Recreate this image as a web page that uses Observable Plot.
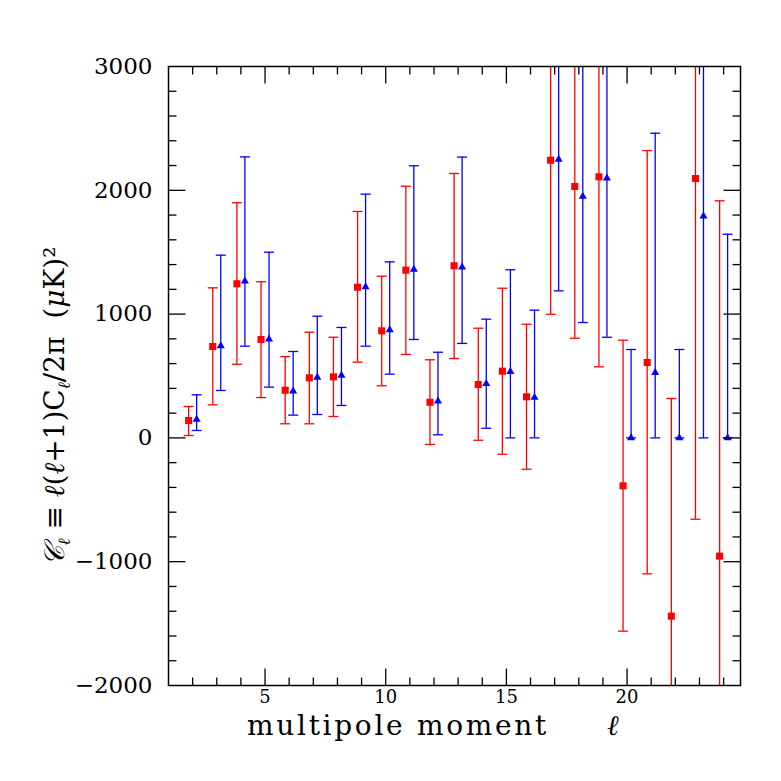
<!DOCTYPE html>
<html><head><meta charset="utf-8">
<script src="https://cdn.jsdelivr.net/npm/d3@7"></script>
<script src="https://cdn.jsdelivr.net/npm/@observablehq/plot@0.6"></script>
<style>body{margin:0;background:#fff}</style>
</head><body><div id="chart"></div>
<script>
// multipole moments
const ell = [2,3,4,5,6,7,8,9,10,11,12,13,14,15,16,17,18,19,20,21,22,23,24];
// red squares (value, lower and upper ends of error bar)
const redValue = [140,738,1245,795,385,485,493,1217,865,1355,288,1390,431,539,332,2243,2031,2109,-387,609,-1440,2095,-955];
const redHigh  = [254,1212,1899,1261,657,854,813,1829,1306,2033,631,2136,886,1209,918,3490,3260,3640,789,2321,318,4850,1915];
const redLow   = [19,267,595,326,114,114,173,612,421,674,-53,641,-19,-132,-253,999,805,574,-1561,-1098,-3200,-657,-3830];
// blue triangles
const blueValue = [149,744,1266,797,377,488,504,1220,873,1360,297,1379,439,536,326,2250,1950,2098,0,526,0,1791,0];
const blueHigh  = [348,1476,2270,1500,698,983,892,1969,1422,2198,692,2268,959,1358,1032,3310,3200,3380,714,2461,714,3600,1645];
const blueLow   = [60,383,741,410,184,189,262,741,515,795,25,763,78,0,0,1188,932,813,0,0,0,0,0];
// ticks
const xMajorTicks = [5,10,15,20];
const xMinorTicks = [2,3,4,6,7,8,9,11,12,13,14,16,17,18,19,21,22,23,24];
const yTickLabels = [-2000,-1000,0,1000,2000,3000];
const yMajorTicks = [-1000,0,1000,2000];
const yMinorTicks = [-1800,-1600,-1400,-1200,-800,-600,-400,-200,200,400,600,800,1200,1400,1600,1800,2200,2400,2600,2800];

const red = "#ff0000", blue = "#0000ff";
const redRows = ell.map((l,i)=>({l, v: redValue[i], lo: redLow[i], hi: redHigh[i]}));
const blueRows = ell.map((l,i)=>({l, v: blueValue[i], lo: blueLow[i], hi: blueHigh[i]}));

const hLine = (a,b) => ({draw(ctx){ ctx.moveTo(a,0); ctx.lineTo(b,0); }});
const vLine = (a,b) => ({draw(ctx){ ctx.moveTo(0,a); ctx.lineTo(0,b); }});
const cap = hLine(-5,5);
const xMin = 1, xMax = 24.7, yMin = -2000, yMax = 3000;
const tickStyle = {stroke: "black", fill: "none", strokeWidth: 1.3, r: 1};

function series(rows, color, dx, symbol, r) {
  return [
    Plot.ruleX(rows, {x: "l", y1: "lo", y2: "hi", dx, stroke: color, strokeWidth: 1.3, clip: true}),
    Plot.dot(rows, {x: "l", y: "hi", dx, symbol: cap, r: 1, stroke: color, fill: "none", strokeWidth: 1.3, clip: true}),
    Plot.dot(rows, {x: "l", y: "lo", dx, symbol: cap, r: 1, stroke: color, fill: "none", strokeWidth: 1.3, clip: true}),
    Plot.dot(rows, {x: "l", y: "v", dx, symbol, r, fill: color, stroke: "none", clip: true})
  ];
}

const chart = Plot.plot({
  width: 781, height: 781,
  marginLeft: 168, marginRight: 41, marginTop: 66, marginBottom: 96,
  x: {domain: [xMin, xMax]},
  y: {domain: [yMin, yMax]},
  style: {background: "#fff", fontFamily: "DejaVu Serif"},
  marks: [
    ...series(redRows, red, -4, "square", 4),
    ...series(blueRows, blue, 4, "triangle", 3),
    // inward ticks
    Plot.dot(yMajorTicks, {x: xMin, y: d => d, symbol: hLine(0,17), ...tickStyle}),
    Plot.dot(yMinorTicks, {x: xMin, y: d => d, symbol: hLine(0,8), ...tickStyle}),
    Plot.dot(yMajorTicks, {x: xMax, y: d => d, symbol: hLine(-17,0), ...tickStyle}),
    Plot.dot(yMinorTicks, {x: xMax, y: d => d, symbol: hLine(-8,0), ...tickStyle}),
    Plot.dot(xMajorTicks, {y: yMin, x: d => d, symbol: vLine(-17,0), ...tickStyle}),
    Plot.dot(xMinorTicks, {y: yMin, x: d => d, symbol: vLine(-8,0), ...tickStyle}),
    Plot.dot(xMajorTicks, {y: yMax, x: d => d, symbol: vLine(0,17), ...tickStyle}),
    Plot.dot(xMinorTicks, {y: yMax, x: d => d, symbol: vLine(0,8), ...tickStyle}),
    Plot.frame({stroke: "black", strokeWidth: 1.5}),
    Plot.axisY(yTickLabels, {anchor: "left", tickSize: 0, tickPadding: 16, fontSize: 23, fontFamily: "DejaVu Serif", label: null,
      tickFormat: d => d < 0 ? "\u2212" + Math.abs(d) : String(d)}),
    Plot.axisX(xMajorTicks, {anchor: "bottom", tickSize: 0, tickPadding: 5, fontSize: 18, fontFamily: "DejaVu Serif", label: null,
      tickFormat: d => String(d)})
  ]
});
document.getElementById("chart").append(chart);

const svg = d3.select(chart);
// x title
const xt = svg.append("text").attr("x", 247).attr("y", 735).attr("text-anchor", "start")
  .attr("font-family", "DejaVu Serif").attr("font-size", 28).attr("letter-spacing", 2.7).attr("fill", "black");
xt.append("tspan").text("multipole moment");
xt.append("tspan").attr("dx", 58).attr("font-style", "italic").text("\u2113");

// y title
const yt = svg.append("text").attr("transform", "translate(64,406) rotate(-90)")
  .attr("text-anchor", "middle").attr("font-family", "DejaVu Serif").attr("font-size", 28)
  .attr("fill", "black");
yt.append("tspan").attr("font-style", "italic").text("\uD835\uDC9E");
yt.append("tspan").attr("dy", 6).attr("font-size", 17).attr("font-style", "italic").text("\u2113");
yt.append("tspan").attr("dy", -6).text(" \u2261 ");
yt.append("tspan").attr("font-style", "italic").text("\u2113");
yt.append("tspan").text("(");
yt.append("tspan").attr("font-style", "italic").text("\u2113");
yt.append("tspan").text("+1)C");
yt.append("tspan").attr("dy", 6).attr("font-size", 17).attr("font-style", "italic").text("\u2113");
yt.append("tspan").attr("dy", -6).text("/2\u03C0  (");
yt.append("tspan").attr("font-style", "italic").text("\u03BC");
yt.append("tspan").text("K)\u00B2");
</script>
</body></html>
